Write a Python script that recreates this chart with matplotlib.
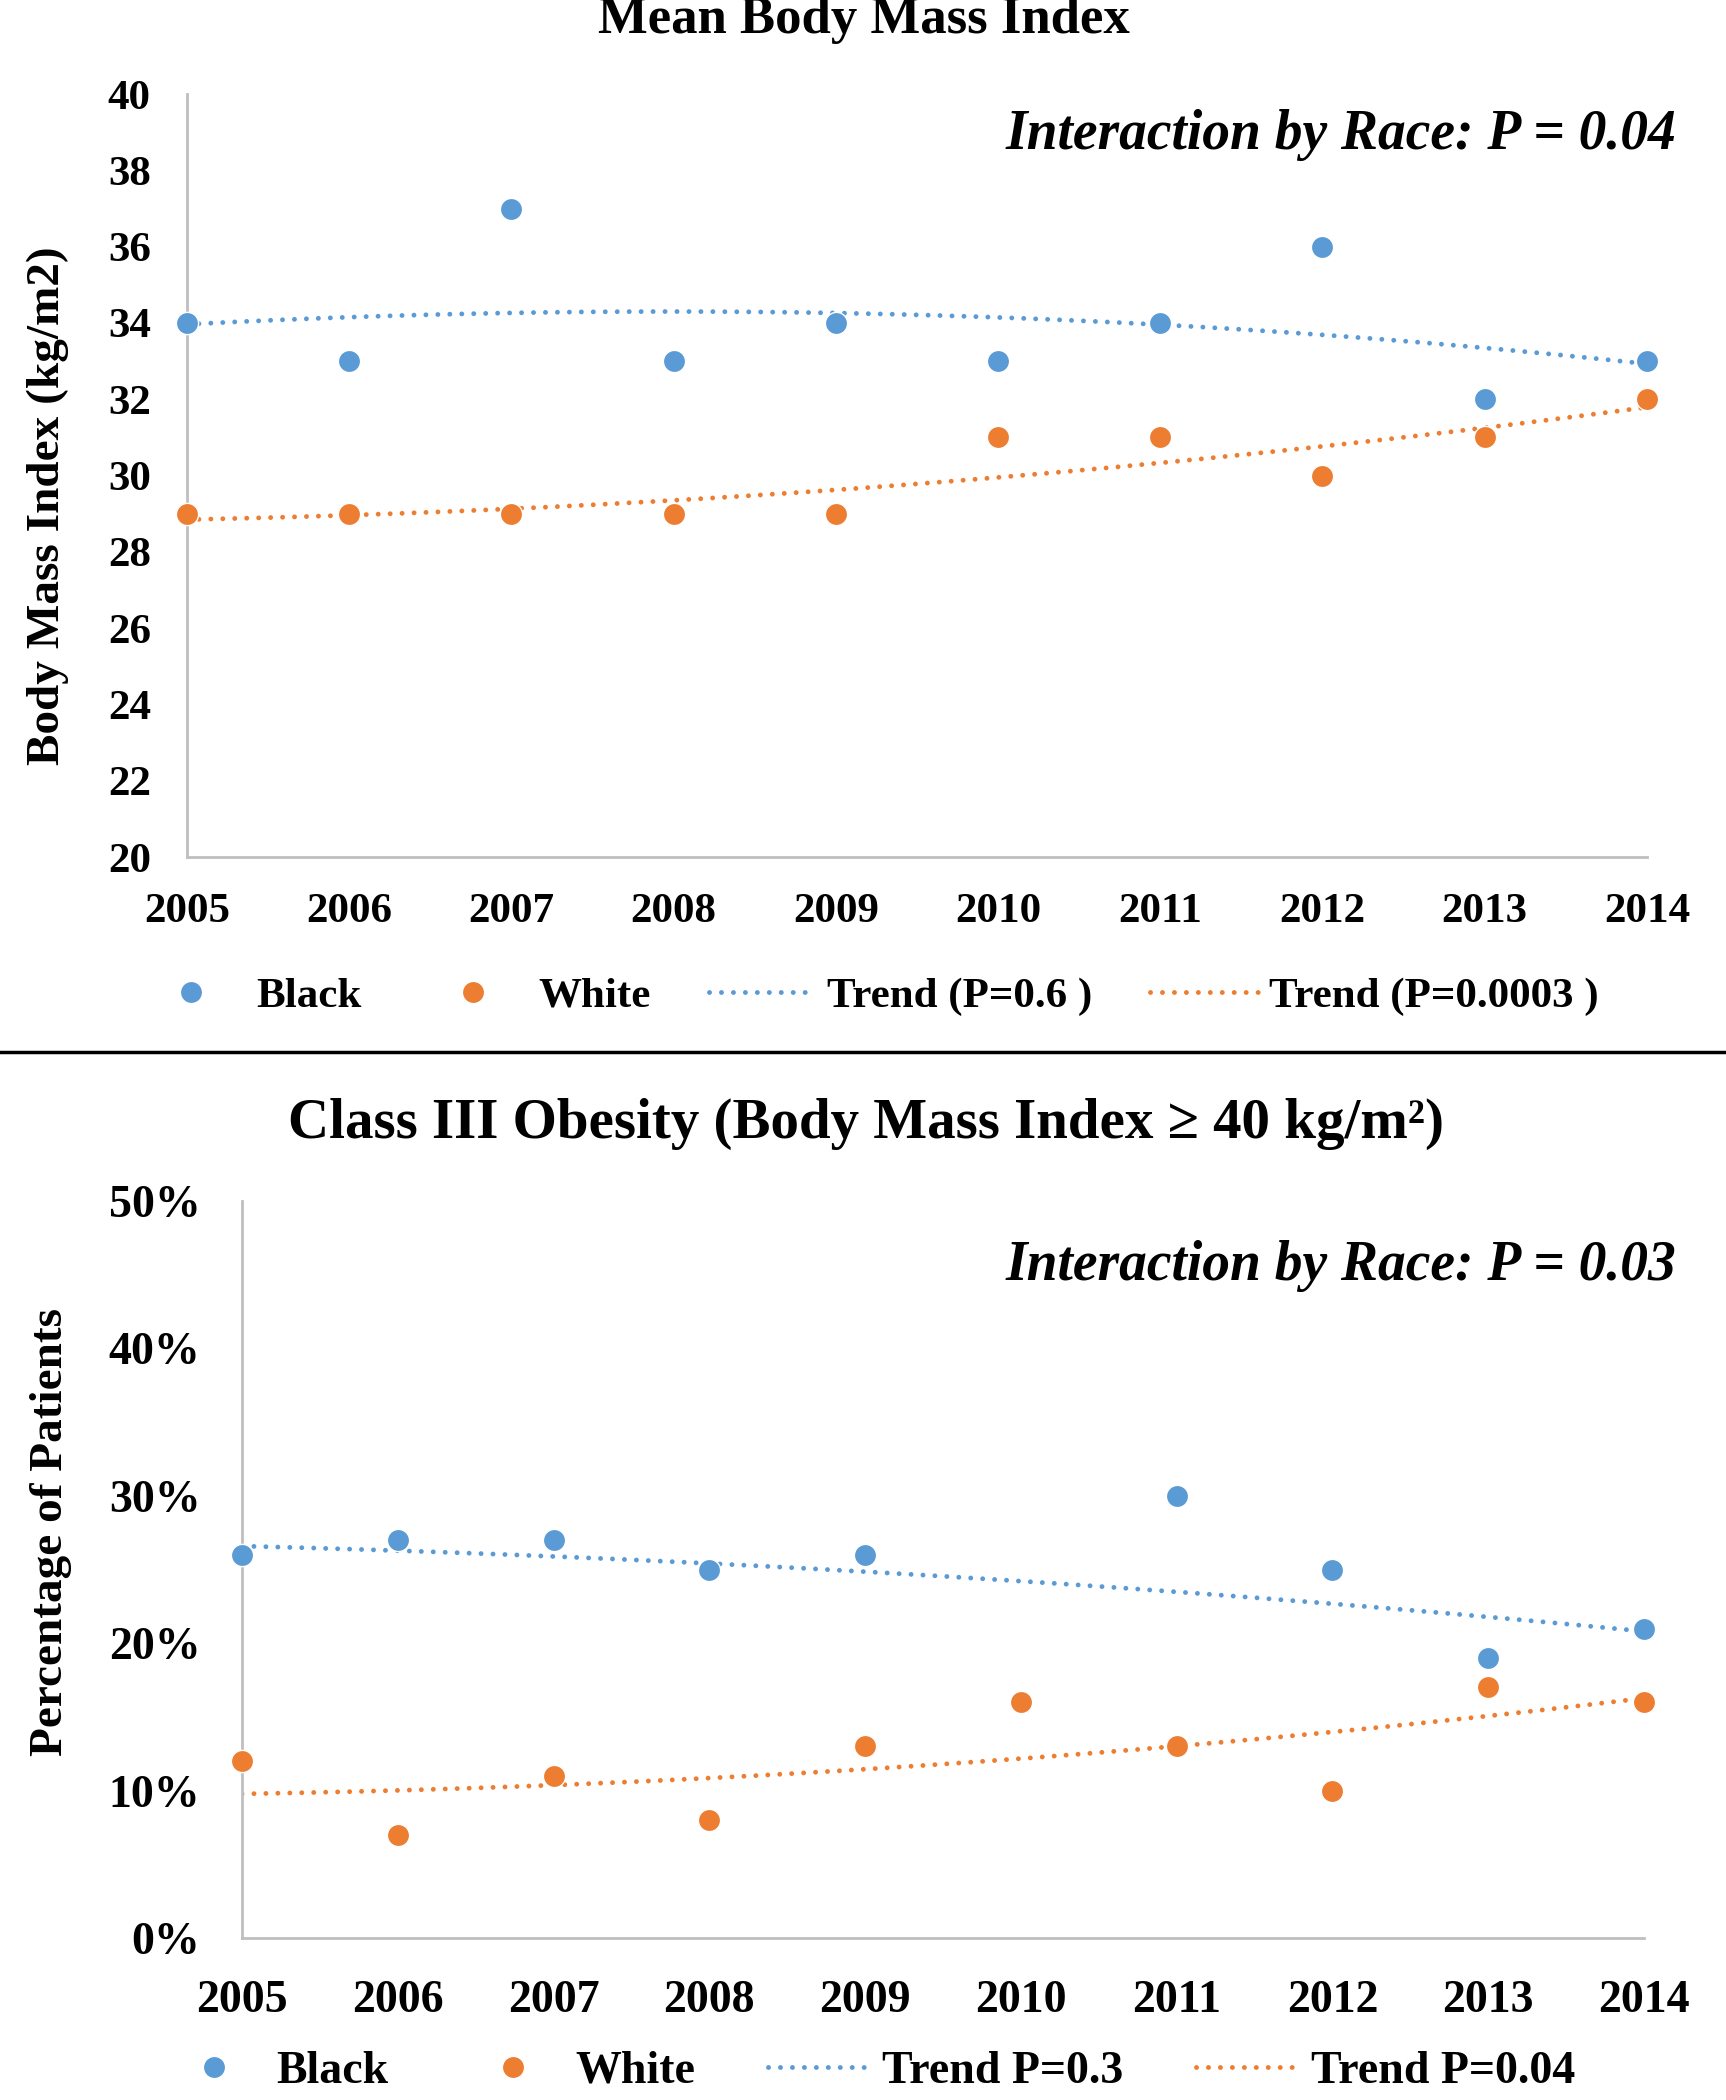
import numpy as np
import matplotlib.pyplot as plt
from matplotlib.lines import Line2D

plt.rcParams['font.family'] = ['Liberation Serif', 'DejaVu Serif']
plt.rcParams['font.weight'] = 'bold'
plt.rcParams['axes.labelweight'] = 'bold'

years = [2005, 2006, 2007, 2008, 2009, 2010, 2011, 2012, 2013, 2014]

# mean BMI (kg/m2)
bmi_black = [34, 33, 37, 33, 34, 33, 34, 36, 32, 33]
bmi_white = [29, 29, 29, 29, 29, 31, 31, 30, 31, 32]

# class III obesity, % of patients (Black 2010 sits under the White marker)
ob3_black = [26, 27, 27, 25, 26, 16, 30, 25, 19, 21]
ob3_white = [12, 7, 11, 8, 13, 16, 13, 10, 17, 16]

top_legend = ['Black', 'White', 'Trend (P=0.6 )', 'Trend (P=0.0003 )']
bot_legend = ['Black', 'White', 'Trend P=0.3', 'Trend P=0.04']

BLUE = '#5B9BD5'
ORANGE = '#ED7D31'
GRID = '#BFBFBF'
dotted = (0, (0.01, 2.45))
MS = 16


def trend(x, y):
    x = np.asarray(x, float)
    y = np.asarray(y, float)
    c = np.polyfit(x - x[0], y, 2)
    xs = np.linspace(x[0], x[-1], 200)
    return xs, np.polyval(c, xs - x[0])


def panel(ax, black, white, fs, ypad, xpad):
    for vals, col in ((black, BLUE), (white, ORANGE)):
        xs, ys = trend(years, vals)
        ax.plot(xs, ys, color=col, lw=3.5, linestyle=dotted,
                dash_capstyle='round', zorder=2)
    ax.plot(years, black, 'o', color=BLUE, ms=MS, mec='white', mew=1, zorder=3, clip_on=False)
    ax.plot(years, white, 'o', color=ORANGE, ms=MS, mec='white', mew=1, zorder=3, clip_on=False)
    ax.set_xlim(2005, 2014)
    ax.set_xticks(years)
    for s in ('top', 'right'):
        ax.spines[s].set_visible(False)
    for s in ('left', 'bottom'):
        ax.spines[s].set_color(GRID)
        ax.spines[s].set_linewidth(2)
    ax.tick_params(length=0, labelsize=fs)
    ax.tick_params(axis='y', pad=ypad)
    ax.tick_params(axis='x', pad=xpad)


fig = plt.figure(figsize=(17.26, 21), dpi=100)

# top panel
ax1 = fig.add_axes([0.1083, 0.5919, 0.8459, 0.3633])
panel(ax1, bmi_black, bmi_white, 31, 26, 26)
ax1.set_ylim(20, 40)
ax1.set_yticks(range(20, 41, 2))
ax1.set_ylabel('Body Mass Index (kg/m2)', fontsize=34)
ax1.yaxis.set_label_coords(-0.081, 0.461)
fig.text(0.5006, 0.9843, 'Mean Body Mass Index', ha='center', va='baseline', fontsize=38)
fig.text(0.971, 0.9357, 'Interaction by Race: P = 0.04', ha='right', va='center',
         fontsize=40, style='italic')

h = [Line2D([], [], marker='o', ls='none', color=BLUE, ms=MS, mec='white'),
     Line2D([], [], marker='o', ls='none', color=ORANGE, ms=MS, mec='white'),
     Line2D([], [], color=BLUE, lw=3.5, ls=dotted, dash_capstyle='round'),
     Line2D([], [], color=ORANGE, lw=3.5, ls=dotted, dash_capstyle='round')]
fig.legend(h, top_legend, loc='center', bbox_to_anchor=(0.503, 0.5257), ncol=4,
           frameon=False, fontsize=31, handlelength=2.49, handletextpad=0.26,
           columnspacing=1.35)

# separator
fig.add_artist(Line2D([0, 1], [1 - 1052 / 2100] * 2, color='black', lw=2.5))

# bottom panel
ax2 = fig.add_axes([0.1402, 0.0771, 0.8123, 0.351])
panel(ax2, ob3_black, ob3_white, 33, 30, 30)
ax2.set_ylim(0, 50)
ax2.set_yticks(range(0, 51, 10))
ax2.set_yticklabels([f'{v}%' for v in range(0, 51, 10)])
ax2.set_ylabel('Percentage of Patients', fontsize=34)
ax2.yaxis.set_label_coords(-0.121, 0.551)
fig.text(0.5017, 0.4581, 'Class III Obesity (Body Mass Index \u2265 40 kg/m\u00b2)',
         ha='center', va='baseline', fontsize=41)
fig.text(0.971, 0.3971, 'Interaction by Race: P = 0.03', ha='right', va='center',
         fontsize=40, style='italic')
fig.legend(h, bot_legend, loc='center', bbox_to_anchor=(0.503, 0.0135), ncol=4,
           frameon=False, fontsize=33, handlelength=2.3, handletextpad=0.2,
           columnspacing=1.58)

fig.savefig('out.png', dpi=100)
